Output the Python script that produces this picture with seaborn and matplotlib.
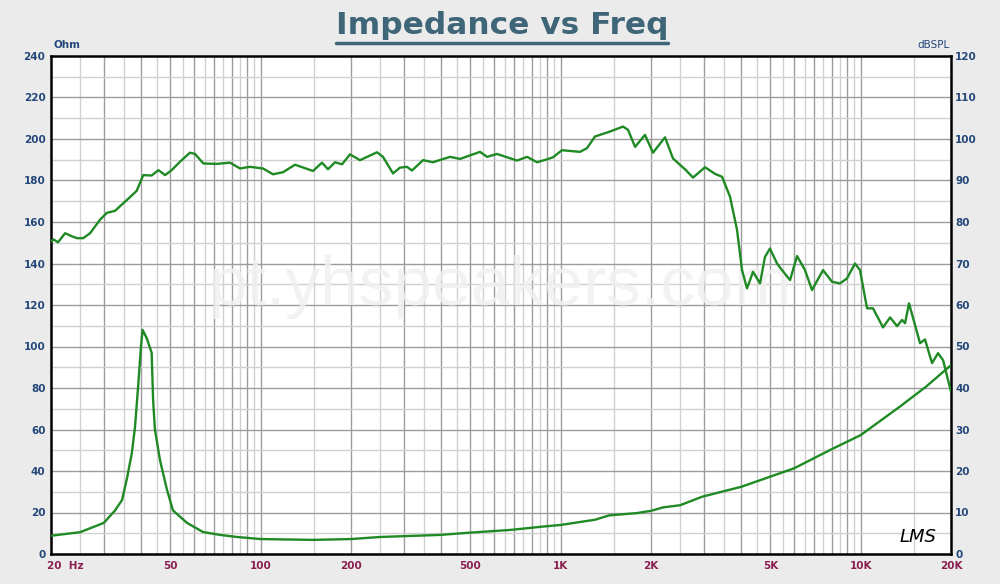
import numpy as np
import pandas as pd
import seaborn as sns
import matplotlib.pyplot as plt
import matplotlib.transforms as mtransforms
from matplotlib.lines import Line2D
from matplotlib.ticker import NullLocator

# ---------------- data ----------------
spl_freq = [20.0, 20.4, 21.1, 22.3, 23.4, 24.4, 25.6, 27.0, 29.1, 30.7, 32.7, 35.8,
            38.6, 40.6, 43.3, 45.6, 48.0, 50.5, 53.8, 58.1, 60.4, 64.4, 71.3, 79.0,
            85.3, 92.1, 101.8, 109.9, 118.7, 130.1, 149.4, 160.1, 167.6, 176.9, 186.7,
            198.5, 214.3, 244.2, 255.7, 276.1, 291.2, 307.3, 319.3, 347.6, 375.3,
            427.6, 461.7, 538.3, 568.1, 613.5, 715.3, 772.4, 834.0, 900.6, 943.0,
            1010, 1160, 1224, 1301, 1460, 1614, 1677, 1770, 1910, 2031, 2227, 2368,
            2597, 2761, 3027, 3269, 3450, 3668, 3871, 4022, 4179, 4376, 4618, 4797,
            4984, 5262, 5468, 5815, 6137, 6522, 6883, 7489, 8026, 8531, 9002, 9572,
            9946, 10500, 10990, 11870, 12530, 13220, 13740, 14060, 14490, 15770,
            16380, 17290, 18110, 18820, 20000]
spl_db = [75.3, 75.8, 75.1, 77.3, 76.6, 76.1, 76.1, 77.3, 80.5, 82.2, 82.7, 85.3,
          87.5, 91.3, 91.2, 92.5, 91.3, 92.5, 94.5, 96.7, 96.4, 94.1, 94.0, 94.3,
          92.9, 93.3, 92.9, 91.5, 92.0, 93.8, 92.3, 94.3, 92.7, 94.4, 93.9,
          96.3, 94.9, 96.8, 95.7, 91.7, 93.1, 93.3, 92.4, 94.9, 94.4,
          95.7, 95.2, 96.9, 95.7, 96.4, 94.8, 95.7, 94.4, 95.1, 95.6,
          97.3, 96.9, 97.8, 100.6, 101.8, 103.0, 102.2, 98.1, 101.0, 96.7, 100.4, 95.3,
          92.7, 90.7, 93.2, 91.6, 90.9, 86.1, 78.1, 68.4, 64.0, 68.0, 65.2, 71.6,
          73.6, 70.0, 68.4, 66.0, 71.8, 68.4, 63.6, 68.4, 65.6, 65.2, 66.4, 70.0,
          68.4, 59.2, 59.2, 54.6, 57.0, 54.9, 56.4, 55.6, 60.4, 50.8,
          51.7, 46.0, 48.4, 46.7, 39.1]

imp_freq = [20.0, 25.0, 30.0, 32.7, 34.5, 35.9, 37.2, 38.1, 39.0, 39.9, 40.4, 41.7,
            43.3, 43.8, 44.4, 46.2, 48.7, 51.0, 56.8, 64.2, 73.2, 83.4, 100, 150,
            200, 250, 396, 500, 680, 870, 1000, 1300, 1450, 1790, 2000, 2200, 2500,
            2960, 4000, 5000, 6000, 7900, 10000, 13500, 16500, 20000]
imp_ohm = [8.8, 10.5, 15.0, 21.0, 26.0, 37.0, 48.7, 61.0, 80.0, 100.0, 108.0, 104.0,
           97.0, 74.0, 60.0, 45.0, 31.0, 21.0, 15.0, 10.6, 9.2, 8.2, 7.2, 6.8,
           7.2, 8.2, 9.2, 10.3, 11.6, 13.2, 14.0, 16.5, 18.6, 19.7, 20.8, 22.5, 23.5,
           27.6, 32.4, 37.3, 41.3, 50.1, 57.3, 71.0, 80.6, 91.0]

x_tick_values = [20, 50, 100, 200, 500, 1000, 2000, 5000, 10000, 20000]
x_tick_labels = ["20  Hz", "50", "100", "200", "500", "1K", "2K", "5K", "10K", "20K"]
ohm_ticks = list(range(0, 241, 20))
db_ticks = list(range(0, 121, 10))

# ---------------- styling ----------------
sns.set_theme(style="white")
plt.rcParams["font.family"] = ["DejaVu Sans"]

BG = "#ebebeb"
LINE = "#1f8a24"
BLUE = "#24477a"
MAROON = "#8b1f50"
DARK_GRID = "#9c9c9c"
LIGHT_GRID = "#d0d0d0"

fig = plt.figure(figsize=(10, 5.84), dpi=100, facecolor=BG)
ax = fig.add_axes([0.051, 1 - 554 / 584, 0.900, 498 / 584])
ax.set_facecolor("white")
ax.set_xscale("log")
ax.set_xlim(20, 20000)
ax.set_ylim(0, 240)

# grid: verticals at every half multiple inside each decade
for dec in [10, 100, 1000, 10000]:
    for m in np.arange(1.0, 10.0, 0.5):
        f = m * dec
        if 20 < f < 20000:
            col = DARK_GRID if float(m).is_integer() else LIGHT_GRID
            ax.axvline(f, color=col, lw=1.0, zorder=0.5)
for v in range(10, 240, 10):
    col = DARK_GRID if v % 20 == 0 else LIGHT_GRID
    ax.axhline(v, color=col, lw=1.0, zorder=0.5)

# impedance curve (left axis)
imp_df = pd.DataFrame({"freq": imp_freq, "ohm": imp_ohm})
sns.lineplot(data=imp_df, x="freq", y="ohm", ax=ax, color=LINE, lw=1.7,
             estimator=None, sort=False, zorder=3)

# SPL curve (right axis)
ax2 = ax.twinx()
ax2.set_ylim(0, 120)
spl_df = pd.DataFrame({"freq": spl_freq, "db": spl_db})
sns.lineplot(data=spl_df, x="freq", y="db", ax=ax2, color=LINE, lw=1.7,
             estimator=None, sort=False, zorder=3)

for a in (ax, ax2):
    a.set_xlabel("")
    a.set_ylabel("")

ax.set_xticks(x_tick_values)
ax.set_xticklabels(x_tick_labels)
ax.xaxis.set_minor_locator(NullLocator())
ax.set_yticks(ohm_ticks)
ax.set_yticklabels([str(t) for t in ohm_ticks])
ax2.set_yticks(db_ticks)
ax2.set_yticklabels([str(t) for t in db_ticks])
ax2.yaxis.set_minor_locator(NullLocator())

ax.tick_params(axis="x", length=0, pad=5, labelsize=7.5, labelcolor=MAROON)
ax.tick_params(axis="y", length=0, pad=4, labelsize=7.5, labelcolor=BLUE)
ax2.tick_params(axis="y", length=0, pad=3, labelsize=7.5, labelcolor=BLUE)
for lbl in ax.get_xticklabels() + ax.get_yticklabels() + ax2.get_yticklabels():
    lbl.set_fontweight("bold")
first = ax.get_xticklabels()[0]
first.set_horizontalalignment("left")
first.set_transform(first.get_transform() +
                    mtransforms.ScaledTranslation(-4 / 100, 0, fig.dpi_scale_trans))

for s in ax.spines.values():
    s.set_color("black")
    s.set_linewidth(1.8)
for s in ax2.spines.values():
    s.set_visible(False)

# axis unit labels
fig.text(53 / 1000, 1 - 45 / 584, "Ohm", color=BLUE, fontsize=7.5, fontweight="bold",
         ha="left", va="center")
fig.text(950 / 1000, 1 - 45 / 584, "dBSPL", color=BLUE, fontsize=7.5,
         ha="right", va="center")

# title with underline
title = fig.text(0.502, 1 - 26 / 584, "Impedance vs Freq", color="#3f6678",
                 fontsize=22.5, fontweight="bold", ha="center", va="center")
fig.canvas.draw()
bb = title.get_window_extent()
W, H = fig.get_size_inches() * fig.dpi
uy = (bb.y0 - 2) / H
fig.add_artist(Line2D([bb.x0 / W, bb.x1 / W], [uy, uy], transform=fig.transFigure,
                      color="#3f6678", lw=2.5))

# watermark
ax.text(0.499, 0.536, "pt.yhspeakers.com", transform=ax.transAxes, fontsize=50,
        family="Liberation Sans", color="#f0f0f0", alpha=0.85, ha="center",
        va="center", zorder=5)

# LMS logo
ax.text(0.963, 0.034, "LMS", transform=ax.transAxes, fontsize=13, style="italic",
        color="black", ha="center", va="center", zorder=6)

fig.savefig("out.png", dpi=100, facecolor=BG)
